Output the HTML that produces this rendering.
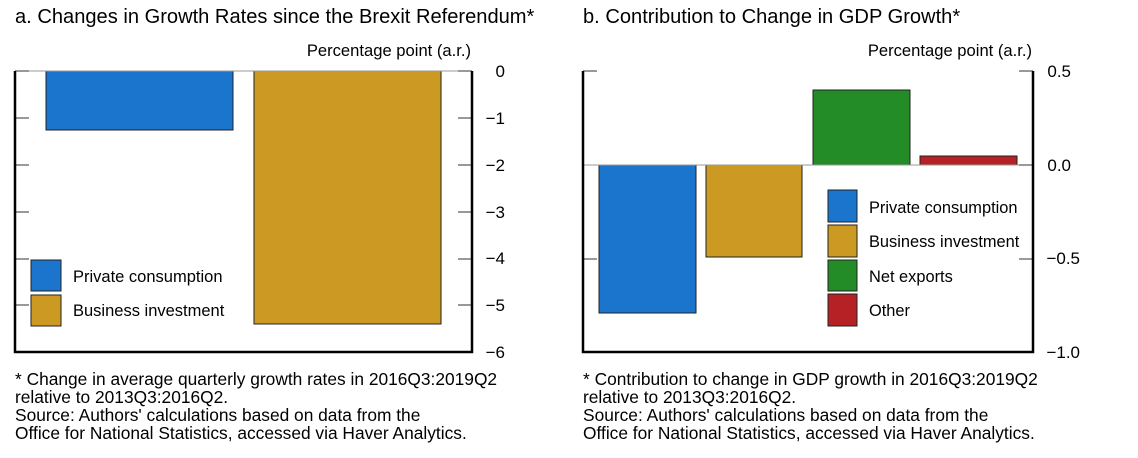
<!DOCTYPE html>
<html><head><meta charset="utf-8"><style>
html,body{margin:0;padding:0;background:#fff}
svg{display:block;font-family:"Liberation Sans",Arial,sans-serif}
</style></head><body>
<svg width="1138" height="458" viewBox="0 0 1138 458">
<g font-size="20.1" fill="#000">
<text x="15" y="23">a. Changes in Growth Rates since the Brexit Referendum*</text>
<text x="583" y="23">b. Contribution to Change in GDP Growth*</text>
</g>
<g font-size="16.6" fill="#000">
<text x="471" y="56" text-anchor="end">Percentage point (a.r.)</text>
<text x="1032" y="56" text-anchor="end">Percentage point (a.r.)</text>
</g>
<!-- Panel A -->
<g>
<rect x="46" y="71" width="187" height="59" fill="#1b75cd" stroke="#222" stroke-width="1"/>
<rect x="254" y="71" width="187" height="253" fill="#cc9a22" stroke="#222" stroke-width="1"/>
<line x1="15" y1="71" x2="472" y2="71" stroke="#999" stroke-width="1"/>
<g stroke="#555" stroke-width="1.2">
<line x1="15" y1="118" x2="29" y2="118"/><line x1="15" y1="165" x2="29" y2="165"/><line x1="15" y1="212" x2="29" y2="212"/><line x1="15" y1="259" x2="29" y2="259"/><line x1="15" y1="305" x2="29" y2="305"/>
<line x1="458" y1="118" x2="472" y2="118"/><line x1="458" y1="165" x2="472" y2="165"/><line x1="458" y1="212" x2="472" y2="212"/><line x1="458" y1="259" x2="472" y2="259"/><line x1="458" y1="305" x2="472" y2="305"/>
<line x1="15" y1="71" x2="29" y2="71"/><line x1="458" y1="71" x2="472" y2="71"/>
</g>
<path d="M15 71 V352 H472 V71" fill="none" stroke="#000" stroke-width="2.5"/>
<g font-size="17" text-anchor="end">
<text x="505" y="77">0</text><text x="505" y="124">−1</text><text x="505" y="171">−2</text><text x="505" y="218">−3</text><text x="505" y="264">−4</text><text x="505" y="311">−5</text><text x="505" y="358">−6</text>
</g>
<rect x="31" y="260" width="30" height="31" fill="#1b75cd" stroke="#222"/>
<rect x="31" y="295" width="30" height="31" fill="#cc9a22" stroke="#222"/>
<g font-size="16.5"><text x="73" y="282">Private consumption</text><text x="73" y="316">Business investment</text></g>
</g>
<!-- Panel B -->
<g>
<rect x="599" y="165" width="97" height="148" fill="#1b75cd" stroke="#222"/>
<rect x="706" y="165" width="96" height="92" fill="#cc9a22" stroke="#222"/>
<rect x="813" y="90" width="97" height="75" fill="#238c27" stroke="#222"/>
<rect x="920" y="156" width="97" height="9" fill="#b52124" stroke="#222"/>
<line x1="583" y1="165" x2="1033" y2="165" stroke="#999" stroke-width="1"/>
<g stroke="#555" stroke-width="1.2">
<line x1="583" y1="71" x2="597" y2="71"/><line x1="1019" y1="71" x2="1033" y2="71"/>
<line x1="583" y1="259" x2="597" y2="259"/><line x1="1019" y1="259" x2="1033" y2="259"/>
<line x1="1019" y1="165" x2="1033" y2="165"/>
</g>
<path d="M583 71 V352 H1033 V71" fill="none" stroke="#000" stroke-width="2.5"/>
<g font-size="17" text-anchor="end">
<text x="1071" y="77">0.5</text><text x="1071" y="171">0.0</text><text x="1080" y="264">−0.5</text><text x="1080" y="358">−1.0</text>
</g>
<rect x="828" y="190" width="29" height="32" fill="#1b75cd" stroke="#222"/>
<rect x="828" y="225" width="29" height="32" fill="#cc9a22" stroke="#222"/>
<rect x="828" y="260" width="29" height="31" fill="#238c27" stroke="#222"/>
<rect x="828" y="294" width="29" height="32" fill="#b52124" stroke="#222"/>
<g font-size="16.4"><text x="869" y="213">Private consumption</text><text x="869" y="247">Business investment</text><text x="869" y="282">Net exports</text><text x="869" y="316">Other</text></g>
</g>
<g font-size="17.35">
<text x="15" y="385">* Change in average quarterly growth rates in 2016Q3:2019Q2</text>
<text x="15" y="403">relative to 2013Q3:2016Q2.</text>
<text x="15" y="421">Source: Authors' calculations based on data from the</text>
<text x="15" y="439">Office for National Statistics, accessed via Haver Analytics.</text>
<text x="583" y="385">* Contribution to change in GDP growth in 2016Q3:2019Q2</text>
<text x="583" y="403">relative to 2013Q3:2016Q2.</text>
<text x="583" y="421">Source: Authors' calculations based on data from the</text>
<text x="583" y="439">Office for National Statistics, accessed via Haver Analytics.</text>
</g>
</svg>
</body></html>
